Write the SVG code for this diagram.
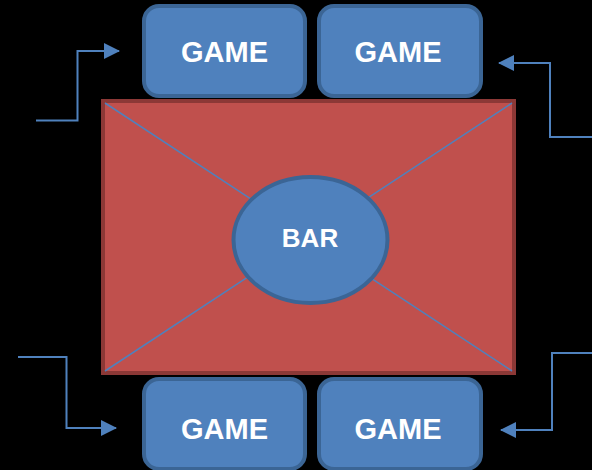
<svg xmlns="http://www.w3.org/2000/svg" width="592" height="470" viewBox="0 0 592 470">
<defs>
<style>
.game{fill:#4f81bd;stroke:#3b6595;stroke-width:4}
.lbl{fill:#ffffff;font-family:"Liberation Sans",Arial,sans-serif;font-weight:bold;text-anchor:middle}
.conn{fill:none;stroke:#4f81bd;stroke-width:2}
.diag{stroke:#4f81bd;stroke-width:1.5}
</style>
<marker id="ah" viewBox="0 0 16 16" refX="15" refY="8" markerWidth="16" markerHeight="16" markerUnits="userSpaceOnUse" orient="auto">
<path d="M0,0 L16,8 L0,16 Z" fill="#4f81bd"/>
</marker>
</defs>
<rect width="592" height="470" fill="#000000"/>
<g id="table">
<rect x="103" y="101" width="411" height="272" fill="#c0504d" stroke="#8c3836" stroke-width="4"/>
<line class="diag" x1="105" y1="103" x2="512" y2="371"/>
<line class="diag" x1="512" y1="103" x2="105" y2="371"/>
</g>
<g id="bar">
<ellipse cx="310.5" cy="240" rx="77" ry="63" fill="#4f81bd" stroke="#3b6595" stroke-width="4"/>
<text class="lbl" x="310" y="247" font-size="26">BAR</text>
</g>
<g id="game-top-left">
<rect class="game" x="144" y="6" width="161" height="90" rx="15"/>
<text class="lbl" x="224.5" y="62" font-size="29">GAME</text>
</g>
<g id="game-top-right">
<rect class="game" x="319" y="6" width="162" height="90" rx="15"/>
<text class="lbl" x="398" y="62" font-size="29">GAME</text>
</g>
<g id="game-bottom-left">
<rect class="game" x="144" y="379" width="161" height="90" rx="15"/>
<text class="lbl" x="224.5" y="439" font-size="29">GAME</text>
</g>
<g id="game-bottom-right">
<rect class="game" x="319" y="379" width="162" height="90" rx="15"/>
<text class="lbl" x="398" y="439" font-size="29">GAME</text>
</g>
<g id="connectors">
<path class="conn" d="M36,120.5 H77.5 V51 H119" marker-end="url(#ah)"/>
<path class="conn" d="M592,137 H550 V63 H499" marker-end="url(#ah)"/>
<path class="conn" d="M18,357 H66.5 V428 H116" marker-end="url(#ah)"/>
<path class="conn" d="M592,353 H552 V430 H501" marker-end="url(#ah)"/>
</g>
</svg>
